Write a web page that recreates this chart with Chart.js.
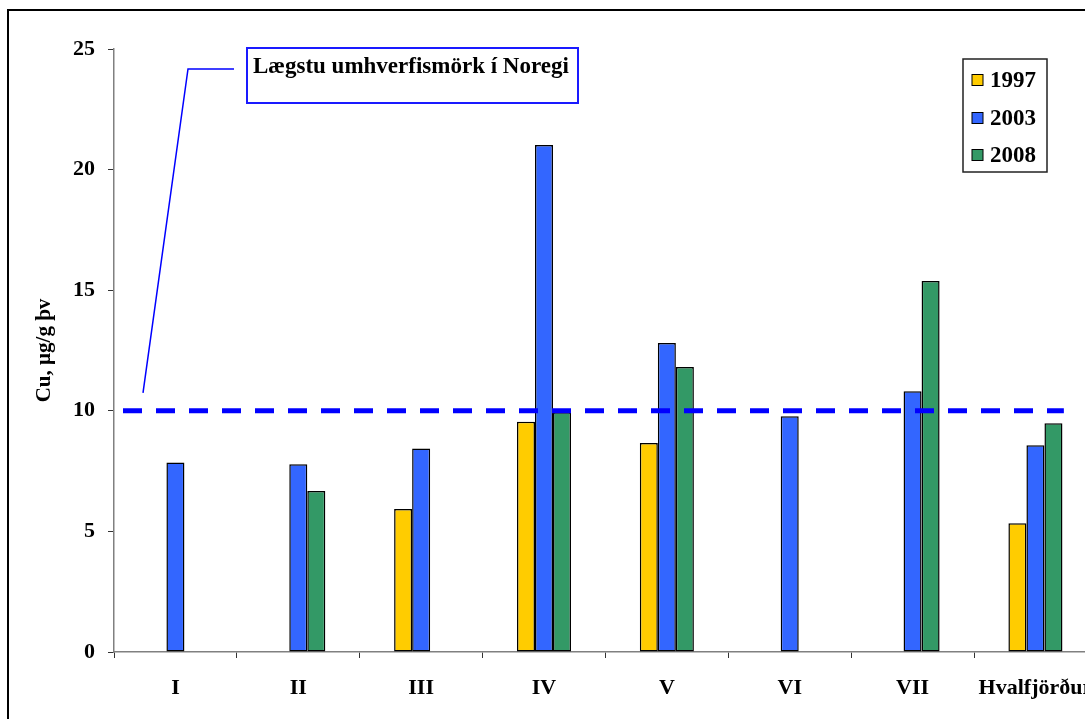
<!DOCTYPE html>
<html>
<head>
<meta charset="utf-8">
<script src="https://cdn.jsdelivr.net/npm/chart.js@4/dist/chart.umd.min.js"></script>
<style>
html, body { margin: 0; padding: 0; overflow: hidden; background: #fff; }
#wrap { position: relative; width: 1110px; height: 719px; }
</style>
</head>
<body>
<div id="wrap"><canvas id="chart" width="1110" height="719"></canvas></div>
<script>
// stöðvar og ár
const stations = ['I', 'II', 'III', 'IV', 'V', 'VI', 'VII', 'Hvalfjörður'];
const years = ['1997', '2003', '2008'];

// Cu, µg/g þv
const cu1997 = [null, null, 5.93, 9.55, 8.66, null, null, 5.34];
const cu2003 = [7.86, 7.78, 8.44, 21.02, 12.81, 9.77, 10.81, 8.57];
const cu2008 = [null, 6.67, null, 9.94, 11.82, null, 15.38, 9.48];

const limitValue = 10;
const limitLabel = 'Lægstu umhverfismörk í Noregi';
const yTitle = 'Cu, µg/g þv';

const serif = 'Liberation Serif';
const colors = ['#FFCC00', '#3366FF', '#339966'];

// rammi, viðmiðunarlína, skýring og textabox
const decorations = {
    id: 'decorations',
    afterDatasetsDraw(chart) {
        const ctx = chart.ctx;
        const area = chart.chartArea;
        const yPix = chart.scales.y.getPixelForValue(limitValue);
        ctx.save();

        // viðmiðunarlína
        ctx.strokeStyle = '#0000FF';
        ctx.lineWidth = 5;
        ctx.setLineDash([19, 14]);
        ctx.beginPath();
        ctx.moveTo(area.left + 9, yPix);
        ctx.lineTo(area.right - 33, yPix);
        ctx.stroke();
        ctx.setLineDash([]);

        // leiðarlína að textaboxi
        ctx.lineWidth = 1.5;
        ctx.beginPath();
        ctx.moveTo(area.left + 29, yPix - 18);
        ctx.lineTo(188, 69);
        ctx.lineTo(234, 69);
        ctx.stroke();

        // textabox
        ctx.fillStyle = '#fff';
        ctx.fillRect(247, 48, 331, 55);
        ctx.lineWidth = 2;
        ctx.strokeStyle = '#1a1aff';
        ctx.strokeRect(247, 48, 331, 55);
        ctx.fillStyle = '#000';
        ctx.font = 'bold 23px "' + serif + '"';
        ctx.textBaseline = 'alphabetic';
        ctx.fillText(limitLabel, 253, 73);

        // skýringar
        ctx.fillStyle = '#fff';
        ctx.fillRect(963, 59, 84, 113);
        ctx.strokeStyle = '#222';
        ctx.lineWidth = 1.5;
        ctx.strokeRect(963, 59, 84, 113);
        const rows = [80, 118, 155];
        chart.data.datasets.forEach((ds, i) => {
            ctx.fillStyle = ds.backgroundColor;
            ctx.fillRect(972, rows[i] - 5.5, 11, 11);
            ctx.strokeStyle = '#000';
            ctx.lineWidth = 1;
            ctx.strokeRect(972, rows[i] - 5.5, 11, 11);
            ctx.fillStyle = '#000';
            ctx.textBaseline = 'middle';
            ctx.fillText(ds.label, 990, rows[i] + 1);
        });

        // ytri rammi
        ctx.strokeStyle = '#000';
        ctx.lineWidth = 2;
        ctx.strokeRect(8, 10, 1300, 900);
        ctx.restore();
    }
};

const ctx = document.getElementById('chart').getContext('2d');
const chart = new Chart(ctx, {
    type: 'bar',
    data: {
        labels: stations,
        datasets: [
            { label: years[0], data: cu1997, backgroundColor: colors[0] },
            { label: years[1], data: cu2003, backgroundColor: colors[1] },
            { label: years[2], data: cu2008, backgroundColor: colors[2] }
        ].map(ds => Object.assign(ds, {
            borderColor: '#000',
            borderWidth: 1.5,
            borderSkipped: false,
            categoryPercentage: 0.44,
            barPercentage: 1.0
        }))
    },
    options: {
        responsive: false,
        animation: false,
        layout: { padding: { top: 49, right: 12, left: 0, bottom: 0 } },
        plugins: {
            legend: { display: false },
            tooltip: { enabled: false }
        },
        scales: {
            x: {
                afterFit(scale) { scale.height = 67; },
                grid: { drawOnChartArea: false, drawTicks: true, tickLength: 6, color: '#333', offset: true },
                border: { color: '#808080', width: 1.5 },
                ticks: {
                    color: '#000',
                    padding: 17,
                    maxRotation: 0,
                    autoSkip: false,
                    font: { family: serif, size: 22, weight: 'bold' }
                }
            },
            y: {
                min: 0,
                max: 25,
                afterFit(scale) { scale.width = 114; },
                grid: { drawOnChartArea: false, drawTicks: true, tickLength: 6, color: '#333' },
                border: { color: '#808080', width: 1.5 },
                ticks: {
                    stepSize: 5,
                    color: '#000',
                    padding: 13,
                    font: { family: serif, size: 22, weight: 'bold' }
                },
                title: {
                    display: true,
                    text: yTitle,
                    color: '#000',
                    padding: { top: 32, bottom: 0 },
                    font: { family: serif, size: 21, weight: 'bold' }
                }
            }
        }
    },
    plugins: [decorations]
});
</script>
</body>
</html>
